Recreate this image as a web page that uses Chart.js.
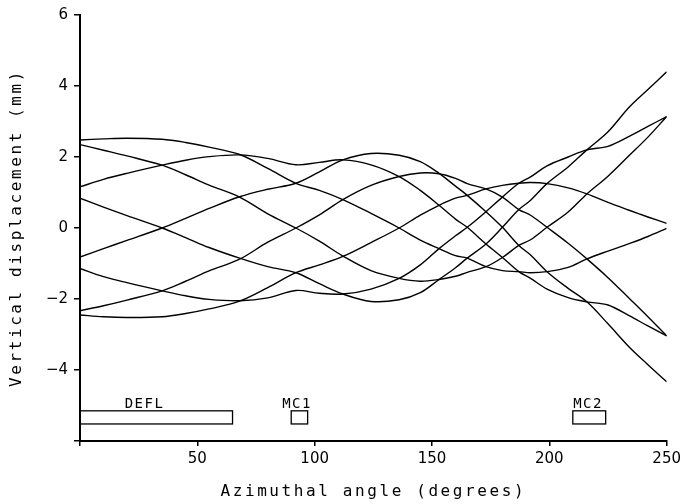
<!DOCTYPE html>
<html>
<head>
<meta charset="utf-8">
<script src="https://cdn.jsdelivr.net/npm/chart.js@4.4.1/dist/chart.umd.min.js"></script>
<style>
  html, body { margin: 0; padding: 0; background: #fff; }
</style>
</head>
<body>
<canvas id="myChart" width="685" height="504"></canvas>
<script>
const angles = [0, 10, 20, 35, 45, 55, 68, 80, 92, 102, 112, 124, 136, 145, 153, 160, 165, 173, 180, 187, 192, 199, 208, 216, 225, 234, 242, 250];

// vertical displacement (mm) of the 8 rays
const ray1 = [2.48, 2.51, 2.53, 2.50, 2.41, 2.28, 2.07, 1.68, 1.26, 1.06, 0.80, 0.41, 0.00, -0.34, -0.58, -0.78, -0.85, -1.09, -1.20, -1.23, -1.26, -1.23, -1.11, -0.87, -0.65, -0.44, -0.24, -0.01];
const ray2 = [2.35, 2.19, 2.03, 1.77, 1.50, 1.21, 0.87, 0.40, 0.00, -0.37, -0.79, -1.20, -1.42, -1.50, -1.45, -1.36, -1.25, -1.09, -0.83, -0.49, -0.33, 0.02, 0.45, 0.96, 1.46, 2.04, 2.56, 3.14];
const ray3 = [1.16, 1.37, 1.54, 1.77, 1.91, 2.01, 2.06, 1.96, 1.78, 1.85, 1.92, 1.78, 1.45, 1.06, 0.64, 0.25, 0.02, -0.45, -0.83, -1.23, -1.42, -1.72, -1.96, -2.08, -2.17, -2.47, -2.76, -3.04];
const ray4 = [0.84, 0.59, 0.35, 0.00, -0.27, -0.55, -0.85, -1.09, -1.26, -1.57, -1.86, -2.07, -2.02, -1.82, -1.45, -1.12, -0.85, -0.45, 0.02, 0.52, 0.78, 1.25, 1.72, 2.20, 2.71, 3.40, 3.90, 4.40];
const ray5 = [-0.82, -0.58, -0.35, 0.00, 0.27, 0.55, 0.88, 1.09, 1.26, 1.58, 1.92, 2.10, 2.05, 1.87, 1.54, 1.18, 0.92, 0.46, 0.02, -0.49, -0.76, -1.23, -1.70, -2.08, -2.70, -3.35, -3.85, -4.33];
const ray6 = [-1.14, -1.37, -1.54, -1.77, -1.91, -2.01, -2.05, -1.97, -1.76, -1.84, -1.86, -1.72, -1.42, -1.04, -0.58, -0.22, 0.02, 0.46, 0.87, 1.26, 1.44, 1.75, 2.00, 2.20, 2.30, 2.58, 2.86, 3.14];
const ray7 = [-2.33, -2.19, -2.03, -1.77, -1.50, -1.21, -0.88, -0.40, 0.00, 0.37, 0.80, 1.20, 1.45, 1.55, 1.53, 1.40, 1.25, 1.10, 0.87, 0.52, 0.36, 0.02, -0.43, -0.87, -1.40, -1.98, -2.50, -3.04];
const ray8 = [-2.45, -2.50, -2.52, -2.50, -2.41, -2.28, -2.06, -1.68, -1.26, -1.04, -0.80, -0.41, 0.00, 0.36, 0.64, 0.84, 0.92, 1.10, 1.20, 1.26, 1.28, 1.25, 1.13, 0.96, 0.72, 0.50, 0.31, 0.13];

// elements along the azimuth (degrees)
const magnetNames = ['DEFL', 'MC1', 'MC2'];
const magnetFrom = [0, 90, 210];
const magnetTo = [65, 97, 224];
const magnetLabelAt = [27.5, 92.5, 216.5];

const rays = [ray1, ray2, ray3, ray4, ray5, ray6, ray7, ray8];

const overlay = {
  id: 'overlay',
  afterDraw(chart) {
    const { ctx, scales: { x, y }, chartArea } = chart;
    ctx.save();
    ctx.strokeStyle = '#000';
    ctx.fillStyle = '#000';
    ctx.lineWidth = 1.3;

    // magnet boxes
    ctx.font = '14px "DejaVu Sans Mono"';
    ctx.letterSpacing = '1.5px';
    ctx.textAlign = 'center';
    ctx.textBaseline = 'alphabetic';
    const top = y.getPixelForValue(-5.15);
    const bot = y.getPixelForValue(-5.52);
    magnetNames.forEach((name, i) => {
      const x0 = x.getPixelForValue(magnetFrom[i]);
      const x1 = x.getPixelForValue(magnetTo[i]);
      ctx.strokeRect(x0, top, x1 - x0, bot - top);
      ctx.fillText(name, x.getPixelForValue(magnetLabelAt[i]), top - 3);
    });

    // axis titles
    ctx.font = '16px "DejaVu Sans Mono"';
    ctx.letterSpacing = '2.6px';
    ctx.textBaseline = 'middle';
    ctx.fillText('Azimuthal angle (degrees)', (chartArea.left + chartArea.right) / 2, 492);
    ctx.translate(17, (chartArea.top + chartArea.bottom) / 2);
    ctx.rotate(-Math.PI / 2);
    ctx.fillText('Vertical displacement (mm)', 0, 0);
    ctx.restore();
  }
};

const ctx = document.getElementById('myChart');

const myChart = new Chart(ctx, {
  type: 'line',
  data: {
    datasets: rays.map(r => ({
      data: angles.map((a, i) => ({ x: a, y: r[i] })),
      borderColor: '#000',
      borderWidth: 1.4,
      pointRadius: 0,
      fill: false,
      tension: 0.35
    }))
  },
  options: {
    responsive: false,
    animation: false,
    layout: { padding: { top: 15, right: 18, left: 0, bottom: 0 } },
    plugins: { legend: { display: false }, tooltip: { enabled: false } },
    scales: {
      x: {
        type: 'linear',
        min: 0,
        max: 250,
        afterFit: s => { s.height = 63; },
        grid: { drawOnChartArea: false, drawTicks: true, tickLength: 5, color: '#000', lineWidth: 1.5 },
        border: { display: true, color: '#000', width: 2 },
        ticks: {
          stepSize: 50,
          color: '#000',
          padding: 4,
          maxRotation: 0,
          autoSkip: false,
          font: { family: 'DejaVu Sans', size: 15 },
          callback: v => (v === 0 ? '' : v)
        }
      },
      y: {
        min: -6,
        max: 6,
        afterFit: s => { s.width = 80; },
        grid: { drawOnChartArea: false, drawTicks: true, tickLength: 6, color: '#000', lineWidth: 1.5 },
        border: { display: true, color: '#000', width: 2 },
        ticks: {
          stepSize: 2,
          color: '#000',
          padding: 6,
          font: { family: 'DejaVu Sans', size: 15 },
          callback: v => (v === -6 ? '' : (v < 0 ? '\u2212' + (-v) : v))
        }
      }
    }
  },
  plugins: [overlay]
});
</script>
</body>
</html>
